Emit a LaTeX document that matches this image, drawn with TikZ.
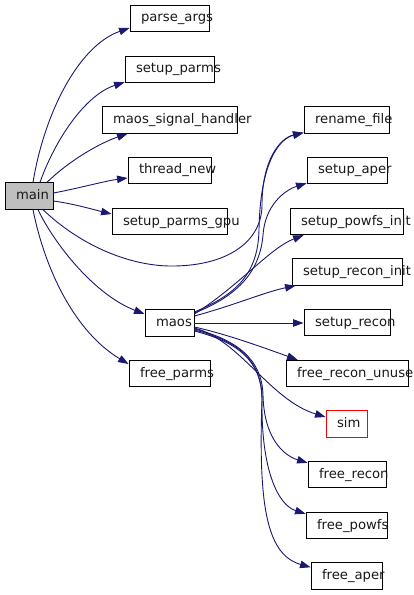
\documentclass[tikz,border=0pt]{standalone}
\usepackage{fontspec}
\setmainfont{DejaVu Sans}
\usetikzlibrary{arrows.meta}
\definecolor{edgeblue}{HTML}{191970}
\definecolor{maingray}{HTML}{BFBFBF}
\newcommand{\lbl}[2]{\makebox[#1bp][l]{\hspace{11bp}#2}}
\begin{document}
\begin{tikzpicture}[x=1bp,y=-1bp,
  fn/.style={draw=black, line width=0.9bp, inner sep=0pt, minimum height=26.5bp,
    text height=10bp, text depth=3bp, font=\fontsize{13.2bp}{15bp}\selectfont, text=black!90},
  call/.style={draw=edgeblue, line width=0.9bp, -{Triangle[length=10.5bp,width=7.5bp]}, fill=none},
]
\path[use as bounding box, fill=white] (0,0) rectangle (413,595);
% left column
\node[fn, fill=maingray] (main) at (29,196) {\lbl{48}{main}};
\node[fn] (parse_args) at (169.5,18.5) {\lbl{79}{parse\_args}};
\node[fn] (setup_parms) at (169.5,69.5) {\lbl{89}{setup\_parms}};
\node[fn] (maos_signal_handler) at (169.5,120) {\lbl{135}{maos\_signal\_handler}};
\node[fn] (thread_new) at (169.5,170.5) {\lbl{83}{thread\_new}};
\node[fn] (setup_parms_gpu) at (169.5,221.5) {\lbl{115}{setup\_parms\_gpu}};
\node[fn] (maos) at (169.5,323) {\lbl{49}{maos}};
\node[fn] (free_parms) at (169.5,373.5) {\lbl{81}{free\_parms}};
% right column
\node[fn] (rename_file) at (346.5,120) {\lbl{85}{rename\_file}};
\node[fn] (setup_aper) at (347,170.5) {\lbl{80}{setup\_aper}};
\node[fn] (setup_powfs_init) at (346.5,221.5) {\lbl{113}{setup\_powfs\_init}};
\node[fn] (setup_recon_init) at (347,272) {\lbl{110}{setup\_recon\_init}};
\node[fn] (setup_recon) at (347,322.5) {\lbl{86}{setup\_recon}};
\node[fn] (free_recon_unuse) at (347,373.5) {\lbl{122}{free\_recon\_unuse}};
\node[fn, draw=red] (sim) at (346.5,424) {\lbl{41}{sim}};
\node[fn] (free_recon) at (347,474.5) {\lbl{78}{free\_recon}};
\node[fn] (free_powfs) at (346.5,525.5) {\lbl{81}{free\_powfs}};
\node[fn] (free_aper) at (346.5,576) {\lbl{71}{free\_aper}};

% edges from main
\draw[call] ([xshift=4bp]main.north) .. controls (45,110) and (80,45) .. ([yshift=-9.5bp]parse_args.west);
\draw[call] ([xshift=11bp]main.north) .. controls (55,140) and (85,95) .. ([yshift=1bp]setup_parms.south west);
\draw[call] ([xshift=18bp]main.north) .. controls (70,160) and (100,143) .. ([xshift=26bp]maos_signal_handler.south west);
\draw[call] ([yshift=3bp]main.east) .. controls (80,188) and (105,181) .. ([yshift=-7.5bp]thread_new.west);
\draw[call] ([yshift=-5bp]main.east) .. controls (75,204) and (95,210) .. ([yshift=7.5bp]setup_parms_gpu.west);
\draw[call] ([xshift=4bp]main.south) .. controls (45,270) and (75,332) .. ([yshift=9.5bp]free_parms.west);
\draw[call] ([xshift=9bp]main.south) .. controls (55,245) and (95,295) .. ([yshift=9bp]maos.west);
\draw[call] ([xshift=14bp]main.south) .. controls (80,245) and (130,267) .. (175,266)
  .. controls (230,265) and (262,240) .. (262,205)
  .. controls (262,160) and (280,138) .. ([yshift=1bp]rename_file.south west);

% edges from maos
\draw[call] ([yshift=11bp]maos.east) .. controls (235,295) and (258,275) .. (259,230)
  .. controls (260,165) and (278,139) .. ([yshift=1bp]rename_file.south west);
\draw[call] ([yshift=10bp]maos.east) .. controls (240,295) and (260,270) .. (263,235)
  .. controls (265,205) and (285,190) .. ([yshift=1bp]setup_aper.south west);
\draw[call] ([yshift=9bp]maos.east) .. controls (240,285) and (270,248) .. ([xshift=14bp]setup_powfs_init.south west);
\draw[call] ([yshift=7bp]maos.east) .. controls (235,305) and (265,292) .. ([xshift=4bp]setup_recon_init.south west);
\draw[call] (maos.east) -- (setup_recon.west |- maos.east);
\draw[call] ([yshift=-4bp]maos.east) .. controls (230,335) and (270,350) .. ([xshift=12bp]free_recon_unuse.north west);
\draw[call] ([yshift=-5bp]maos.east) .. controls (240,340) and (270,400) .. ([yshift=7bp]sim.west);
\draw[call] ([yshift=-6bp]maos.east) .. controls (238,340) and (262,360) .. (263,395)
  .. controls (264,440) and (285,456) .. ([yshift=-2bp]free_recon.north west);
\draw[call] ([yshift=-7bp]maos.east) .. controls (238,341) and (262,360) .. (262,400)
  .. controls (261,470) and (278,505) .. ([yshift=-2bp]free_powfs.north west);
\draw[call] ([yshift=-8bp]maos.east) .. controls (237,342) and (262,360) .. (262,400)
  .. controls (258,510) and (268,555) .. ([yshift=-5bp]free_aper.north west);
\end{tikzpicture}
\end{document}
